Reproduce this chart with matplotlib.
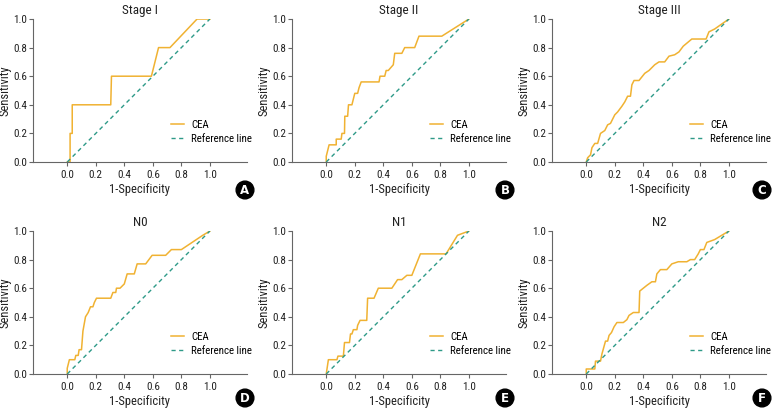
import matplotlib
matplotlib.use("Agg")
import matplotlib.pyplot as plt

plt.rcParams['font.family'] = ['Roboto Condensed', 'DejaVu Sans']

titles = ["Stage I", "Stage II", "Stage III", "N0", "N1", "N2"]
letters = ["A", "B", "C", "D", "E", "F"]

fpr_stage1 = [0.0, 0.02, 0.02, 0.035, 0.035, 0.305, 0.31, 0.59, 0.64, 0.72, 0.91, 1.0]
tpr_stage1 = [0.0, 0.0, 0.2, 0.2, 0.4, 0.4, 0.6, 0.6, 0.8, 0.8, 1.0, 1.0]

fpr_stage2 = [0.0, 0.0, 0.02, 0.07, 0.07, 0.105, 0.11, 0.128, 0.13, 0.15, 0.156, 0.18, 0.2, 0.22, 0.23, 0.245,
              0.37, 0.377, 0.41, 0.42, 0.435, 0.47, 0.48, 0.53, 0.55, 0.62, 0.65, 0.81, 1.0]
tpr_stage2 = [0.0, 0.04, 0.12, 0.12, 0.16, 0.16, 0.2, 0.2, 0.32, 0.32, 0.4, 0.4, 0.48, 0.48, 0.52, 0.56,
              0.56, 0.6, 0.6, 0.64, 0.64, 0.68, 0.76, 0.76, 0.8, 0.8, 0.88, 0.88, 1.0]

fpr_stage3 = [0.0, 0.01, 0.03, 0.04, 0.06, 0.08, 0.1, 0.13, 0.15, 0.17, 0.2, 0.22, 0.25, 0.27, 0.29, 0.31,
              0.32, 0.335, 0.37, 0.41, 0.44, 0.48, 0.51, 0.55, 0.58, 0.62, 0.65, 0.68, 0.74, 0.84, 0.86, 0.9, 1.0]
tpr_stage3 = [0.0, 0.03, 0.05, 0.1, 0.13, 0.13, 0.2, 0.22, 0.26, 0.27, 0.33, 0.35, 0.39, 0.42, 0.46, 0.46,
              0.54, 0.57, 0.57, 0.62, 0.64, 0.68, 0.70, 0.70, 0.74, 0.75, 0.77, 0.81, 0.86, 0.86, 0.91, 0.93, 1.0]

fpr_n0 = [0.0, 0.0, 0.015, 0.053, 0.06, 0.077, 0.083, 0.1, 0.11, 0.128, 0.147, 0.163, 0.18, 0.19, 0.205,
          0.305, 0.32, 0.34, 0.345, 0.37, 0.4, 0.42, 0.47, 0.49, 0.55, 0.595, 0.69, 0.73, 0.8, 0.95, 1.0]
tpr_n0 = [0.0, 0.04, 0.1, 0.1, 0.13, 0.13, 0.17, 0.17, 0.3, 0.4, 0.43, 0.47, 0.47, 0.5, 0.53,
          0.53, 0.57, 0.57, 0.6, 0.6, 0.63, 0.7, 0.7, 0.77, 0.77, 0.83, 0.83, 0.87, 0.87, 0.97, 1.0]

fpr_n1 = [0.0, 0.015, 0.075, 0.082, 0.12, 0.128, 0.163, 0.17, 0.18, 0.19, 0.215, 0.22, 0.237, 0.284, 0.29,
          0.335, 0.365, 0.46, 0.5, 0.53, 0.565, 0.6, 0.66, 0.84, 0.92, 1.0]
tpr_n1 = [0.0, 0.1, 0.1, 0.125, 0.125, 0.22, 0.22, 0.28, 0.28, 0.31, 0.31, 0.34, 0.375, 0.375, 0.53,
          0.53, 0.6, 0.6, 0.66, 0.66, 0.69, 0.69, 0.84, 0.84, 0.97, 1.0]

fpr_n2 = [0.0, 0.0, 0.06, 0.065, 0.1, 0.11, 0.135, 0.15, 0.16, 0.177, 0.195, 0.215, 0.26, 0.285, 0.3, 0.33,
          0.37, 0.375, 0.4, 0.425, 0.46, 0.485, 0.495, 0.52, 0.565, 0.6, 0.645, 0.705, 0.73, 0.76, 0.785,
          0.8, 0.825, 0.845, 0.9, 1.0]
tpr_n2 = [0.0, 0.035, 0.035, 0.09, 0.09, 0.14, 0.23, 0.23, 0.27, 0.29, 0.33, 0.36, 0.36, 0.38, 0.41, 0.43,
          0.43, 0.58, 0.6, 0.62, 0.645, 0.645, 0.7, 0.73, 0.73, 0.77, 0.785, 0.785, 0.8, 0.8, 0.84,
          0.87, 0.87, 0.92, 0.94, 1.0]

fprs = [fpr_stage1, fpr_stage2, fpr_stage3, fpr_n0, fpr_n1, fpr_n2]
tprs = [tpr_stage1, tpr_stage2, tpr_stage3, tpr_n0, tpr_n1, tpr_n2]
ticks = [0.0, 0.2, 0.4, 0.6, 0.8, 1.0]

W, H = 772, 409
fig = plt.figure(figsize=(W / 100, H / 100), dpi=100)

lefts = [33, 292, 552]
width = 214
tops = [19, 231]
bottoms = [162, 374]
badge_x = [245, 505, 762]
badge_y = [190, 398]

orange = '#F0B232'
teal = '#2E9A88'
spine = '#666666'
txt = '#222222'

for i in range(6):
    r, c = divmod(i, 3)
    l = lefts[c]
    t, b = tops[r], bottoms[r]
    ax = fig.add_axes([l / W, 1 - b / H, width / W, (b - t) / H])
    ax.plot(fprs[i], tprs[i], color=orange, lw=1.1, label='CEA')
    ax.plot([0, 1], [0, 1], color=teal, lw=1.0, ls=(0, (3, 2.5)), label='Reference line')
    ax.set_xlim(-0.24, 1.26)
    ax.set_ylim(0, 1.0)
    ax.set_xticks(ticks)
    ax.set_yticks(ticks)
    ax.set_xticklabels([f"{v:.1f}" for v in ticks])
    ax.set_yticklabels([f"{v:.1f}" for v in ticks])
    for s in ['top', 'right']:
        ax.spines[s].set_visible(False)
    for s in ['left', 'bottom']:
        ax.spines[s].set_color(spine)
        ax.spines[s].set_linewidth(0.8)
    ax.tick_params(labelcolor=txt, labelsize=8, length=3, width=0.8, direction='out',
                   color=spine)
    ax.tick_params(axis='x', pad=2.5)
    ax.tick_params(axis='y', pad=1.2)
    ax.set_title(titles[i], fontsize=9.5, pad=3.5, color=txt)
    ax.set_xlabel('1-Specificity', fontsize=9, labelpad=2.5, color=txt)
    ax.set_ylabel('Sensitivity', fontsize=9, labelpad=1, color=txt)
    ax.legend(loc='center left', bbox_to_anchor=(0.645, 0.21), frameon=False, fontsize=7.8,
              handlelength=1.2, handletextpad=0.65, labelspacing=0.4, borderaxespad=0,
              borderpad=0)
    fig.text(badge_x[c] / W, 1 - badge_y[r] / H, letters[i], color='white', fontsize=8.5,
             fontweight='bold', ha='center', va='center', family='DejaVu Sans',
             bbox=dict(boxstyle='circle,pad=0.2', fc='black', ec='black'))

fig.savefig('out.png', dpi=100)
